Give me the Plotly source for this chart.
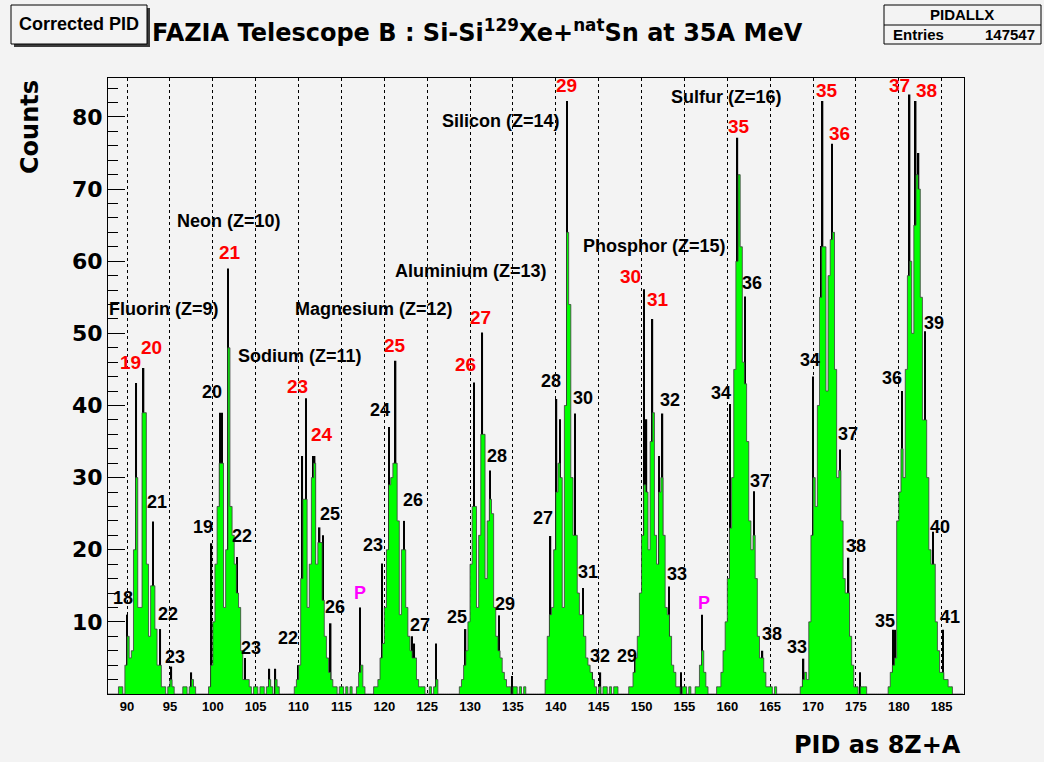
import numpy as np
import plotly.graph_objects as go

# ---------------------------------------------------------------------------
# PID spectrum (8Z+A), counts per 0.25-wide PID bin, one block per element
# ---------------------------------------------------------------------------
BIN_WIDTH = 0.25
PID_MIN, PID_MAX = 87.75, 187.5

fluorine_start = 89.0
fluorine_counts = [1, 1, 0, 4, 8, 5, 6, 20, 30, 12, 12, 39, 39, 18, 8, 15, 15, 9,
                   4, 4, 1, 1, 0, 1, 2, 1, 0, 0, 0, 0, 1, 1, 0, 1, 2, 1]

neon_start = 99.5
neon_counts = [1, 4, 10, 18, 26, 32, 32, 12, 20, 48, 26, 22, 18, 14, 12, 6, 2, 2,
               2, 1, 0, 1, 1, 0, 1, 1, 0, 1, 2, 1, 0, 2, 1]

sodium_start = 109.5
sodium_counts = [1, 2, 4, 16, 27, 27, 12, 18, 30, 32, 18, 21, 21, 13, 8, 5, 3, 2,
                 1, 1, 0, 1, 1, 0, 1, 0, 1, 0, 0, 1, 3, 4, 1]

magnesium_start = 118.75
magnesium_counts = [1, 1, 2, 5, 7, 12, 20, 29, 30, 32, 32, 24, 11, 20, 20, 12, 8,
                    6, 5, 5, 2, 1, 1, 1, 0, 0, 1, 0, 1, 2]

aluminium_start = 128.75
aluminium_counts = [1, 2, 4, 6, 10, 18, 26, 26, 12, 22, 36, 36, 16, 24, 27, 25, 12,
                    8, 6, 5, 3, 2, 1, 1, 0, 1, 1, 0, 1, 0, 1]

silicon_start = 138.75
silicon_counts = [2, 8, 11, 12, 20, 28, 32, 30, 12, 40, 64, 54, 30, 22, 22, 14, 11,
                  11, 8, 5, 4, 3, 2, 1, 0, 1, 0, 1, 1, 0, 1, 0, 1, 1]

phosphorus_start = 148.5
phosphorus_counts = [1, 1, 3, 5, 8, 14, 22, 29, 28, 20, 35, 39, 22, 18, 28, 30, 22,
                     12, 11, 8, 4, 3, 1, 1, 0, 1, 1, 0, 1, 0, 0, 1, 1, 4, 6, 3, 1]

sulfur_start = 158.75
sulfur_counts = [1, 1, 3, 6, 10, 16, 23, 30, 45, 60, 72, 62, 46, 43, 35, 24, 20, 22,
                 16, 8, 5, 5, 3, 1, 1, 1, 0, 1]

chlorine_start = 168.5
chlorine_counts = [1, 2, 3, 2, 10, 22, 30, 26, 40, 55, 62, 62, 42, 58, 63, 64, 45,
                   30, 31, 24, 16, 14, 14, 8, 4, 1, 1, 0, 1, 1, 1]

argon_start = 178.75
argon_counts = [1, 3, 4, 5, 24, 28, 34, 30, 45, 58, 60, 50, 65, 72, 70, 55, 38, 38,
                30, 20, 18, 18, 10, 6, 3, 3, 2, 2, 1, 1]

# Single-bin maxima that stand out of the smoothed distribution
spike_pid = [90.03, 91.08, 91.93, 93.02, 93.88, 95.17, 97.5,
             99.84, 100.85, 101.1, 101.78, 102.84, 103.73, 106.6, 107.3,
             110.02, 110.44, 110.87, 111.7, 111.88, 112.46, 112.85, 113.75, 117.2,
             119.73, 120.54, 121.32, 122.33, 123.26, 123.5, 126.0,
             129.48, 130.45, 131.43, 132.32, 133.41, 134.9,
             139.38, 140.08, 140.47, 141.32, 142.22, 143.19, 144.2, 145.2,
             149.21, 150.26, 150.57, 151.27, 152.05, 152.44, 153.18, 154.6, 157.02,
             160.29, 161.18, 161.38, 162.08, 163.13, 164.1,
             168.89, 170.02, 170.91, 171.11, 172.2, 173.17, 174.14, 175.5,
             179.3, 179.6, 180.35, 181.26, 181.97, 182.3, 183.03, 184.0, 185.12]
spike_counts = [11.0, 43.1, 45.2, 23.9, 9.0, 3.8, 3.0,
                20.9, 39.0, 39.0, 59.0, 19.0, 5.0, 3.5, 3.5,
                4.0, 33.0, 41.0, 33.0, 33.0, 23.1, 22.0, 9.8, 12.0,
                18.1, 37.0, 46.2, 24.0, 8.0, 7.0, 7.0,
                9.0, 43.2, 50.1, 31.0, 10.9, 2.5,
                21.9, 40.9, 38.1, 82.2, 38.9, 14.7, 3.0, 3.0,
                5.7, 56.1, 38.1, 52.0, 33.0, 38.9, 14.9, 3.0, 11.0,
                40.2, 77.1, 70.2, 55.1, 28.1, 6.0,
                4.9, 44.0, 62.1, 82.2, 76.3, 33.9, 18.9, 3.0,
                8.9, 8.9, 42.0, 83.1, 82.2, 75.0, 50.3, 22.5, 8.9]

x_ticks = list(range(90, 186, 5))
y_ticks = list(range(10, 81, 10))

# ---------------------------------------------------------------------------
# Assemble the full binned spectrum
# ---------------------------------------------------------------------------
n_bins = int(round((PID_MAX - PID_MIN) / BIN_WIDTH))
edges = PID_MIN + BIN_WIDTH * np.arange(n_bins + 1)
counts = np.zeros(n_bins)
for start, vals in [(fluorine_start, fluorine_counts), (neon_start, neon_counts),
                    (sodium_start, sodium_counts), (magnesium_start, magnesium_counts),
                    (aluminium_start, aluminium_counts), (silicon_start, silicon_counts),
                    (phosphorus_start, phosphorus_counts), (sulfur_start, sulfur_counts),
                    (chlorine_start, chlorine_counts), (argon_start, argon_counts)]:
    i0 = int(round((start - PID_MIN) / BIN_WIDTH))
    counts[i0:i0 + len(vals)] = vals
step_y = np.append(counts, counts[-1])

# ---------------------------------------------------------------------------
# Figure geometry (pixels)
# ---------------------------------------------------------------------------
W, H = 1044, 762
L, R, T, B = 108, 80, 78, 68
PW, PH = W - L - R, H - T - B
X_RANGE = [87.78, 187.6]
Y_RANGE = [0, 85.4]


def px(xp):
    return (xp - L) / PW


def py(yp):
    return (H - B - yp) / PH


BG = "#f3f3f3"
LIB = "Liberation Sans"
DJV = "DejaVu Sans"

fig = go.Figure()
fig.add_trace(go.Bar(x=spike_pid, y=spike_counts, width=0.17,
                     marker=dict(color="#000000", line=dict(width=0)),
                     hoverinfo="skip", showlegend=False))
fig.add_trace(go.Scatter(x=edges, y=step_y, mode="lines", line_shape="hv",
                         line=dict(color="#3c3c3c", width=0.8),
                         fill="tozeroy", fillcolor="#00ff00",
                         hoverinfo="skip", showlegend=False))

EL, RD, BK = 18, 19, 18   # label sizes: element names, red and black isotopes
labels = [
    ("Fluorin (Z=9)", 94.31, 53.35, "black", EL),
    ("Neon (Z=10)", 101.89, 65.55, "black", EL),
    ("Sodium (Z=11)", 110.17, 46.84, "black", EL),
    ("Magnesium (Z=12)", 118.80, 53.35, "black", EL),
    ("Aluminium (Z=13)", 130.11, 58.62, "black", EL),
    ("Silicon (Z=14)", 133.61, 79.41, "black", EL),
    ("Phosphor (Z=15)", 151.56, 62.08, "black", EL),
    ("Sulfur (Z=16)", 159.95, 82.73, "black", EL),
    ("Chlorin (Z=17)", 171.03, 88.0, "black", EL),
    ("Argon (Z=18)", 186.54, 88.0, "black", EL),
    ("19", 90.35, 46.0, "red", RD), ("20", 92.80, 48.09, "red", RD),
    ("21", 102.01, 61.25, "red", RD), ("23", 109.82, 42.68, "red", RD),
    ("24", 112.73, 36.03, "red", RD), ("25", 121.25, 48.36, "red", RD),
    ("26", 129.41, 45.73, "red", RD), ("27", 131.16, 52.25, "red", RD),
    ("29", 141.30, 84.40, "red", RD), ("30", 148.76, 57.93, "red", RD),
    ("31", 151.91, 54.74, "red", RD), ("35", 161.32, 78.71, "red", RD),
    ("35", 171.58, 83.70, "red", RD), ("36", 173.13, 77.74, "red", RD),
    ("37", 180.12, 84.40, "red", RD), ("38", 183.27, 83.70, "red", RD),
    ("18", 89.53, 13.30, "black", BK), ("21", 93.50, 26.61, "black", BK),
    ("22", 94.78, 11.09, "black", BK), ("23", 95.60, 5.13, "black", BK),
    ("20", 99.91, 41.85, "black", BK), ("19", 98.86, 23.14, "black", BK),
    ("22", 103.41, 21.90, "black", BK), ("23", 104.46, 6.37, "black", BK),
    ("22", 108.77, 7.76, "black", BK), ("25", 113.67, 24.94, "black", BK),
    ("26", 114.25, 12.06, "black", BK), ("23", 118.68, 20.65, "black", BK),
    ("24", 119.50, 39.36, "black", BK), ("26", 123.34, 26.88, "black", BK),
    ("27", 124.16, 9.56, "black", BK), ("25", 128.48, 10.67, "black", BK),
    ("28", 133.14, 32.98, "black", BK), ("29", 134.07, 12.47, "black", BK),
    ("27", 138.50, 24.39, "black", BK), ("28", 139.43, 43.38, "black", BK),
    ("30", 143.17, 41.02, "black", BK), ("31", 143.75, 16.91, "black", BK),
    ("32", 145.15, 5.27, "black", BK), ("29", 148.30, 5.27, "black", BK),
    ("32", 153.31, 40.74, "black", BK), ("33", 154.13, 16.63, "black", BK),
    ("34", 159.25, 41.71, "black", BK), ("36", 162.87, 56.96, "black", BK),
    ("37", 163.80, 29.52, "black", BK), ("38", 165.20, 8.31, "black", BK),
    ("33", 168.11, 6.51, "black", BK), ("34", 169.63, 46.29, "black", BK),
    ("37", 174.06, 36.03, "black", BK), ("38", 174.99, 20.51, "black", BK),
    ("35", 178.38, 10.12, "black", BK), ("36", 179.19, 43.79, "black", BK),
    ("39", 184.09, 51.41, "black", BK), ("40", 184.79, 23.14, "black", BK),
    ("41", 185.95, 10.67, "black", BK),
    ("P", 117.17, 14.0, "#ff00ff", 18), ("P", 157.27, 12.61, "#ff00ff", 18),
]

annotations = []
for text, xv, yv, col, size in labels:
    annotations.append(dict(text=text, x=xv, y=yv, xref="x", yref="y",
                            showarrow=False, xanchor="center", yanchor="middle",
                            font=dict(family=LIB, size=size, color=col, weight="bold")))

# Title, axis titles, pave texts
annotations += [
    dict(text="FAZIA Telescope B : Si-Si<sup>129</sup>Xe+<sup>nat</sup>Sn at 35A MeV",
         x=px(150), y=py(31), xref="paper", yref="paper", showarrow=False,
         xanchor="left", yanchor="middle",
         font=dict(family=DJV, size=24, color="black", weight="bold")),
    dict(text="Counts", x=px(30), y=py(127), xref="paper", yref="paper",
         showarrow=False, textangle=-90, xanchor="center", yanchor="middle",
         font=dict(family=DJV, size=24, color="black", weight="bold")),
    dict(text="PID as 8Z+A", x=px(963), y=py(745), xref="paper", yref="paper",
         showarrow=False, xanchor="right", yanchor="middle",
         font=dict(family=DJV, size=24, color="black", weight="bold")),
    dict(text="Corrected PID", x=px(79), y=py(24), xref="paper", yref="paper",
         showarrow=False, xanchor="center", yanchor="middle",
         font=dict(family=LIB, size=18, color="black", weight="bold")),
    dict(text="PIDALLX", x=px(962), y=py(15), xref="paper", yref="paper",
         showarrow=False, xanchor="center", yanchor="middle",
         font=dict(family=LIB, size=15, color="black", weight="bold")),
    dict(text="Entries", x=px(891), y=py(34), xref="paper", yref="paper",
         showarrow=False, xanchor="left", yanchor="middle",
         font=dict(family=LIB, size=15, color="black", weight="bold")),
    dict(text="147547", x=px(1037), y=py(34), xref="paper", yref="paper",
         showarrow=False, xanchor="right", yanchor="middle",
         font=dict(family=LIB, size=15, color="black", weight="bold")),
]

shapes = [
    # "Corrected PID" pave with drop shadow
    dict(type="rect", xref="paper", yref="paper", x0=px(14), x1=px(150), y0=py(8), y1=py(47),
         fillcolor="#3a3a3a", line=dict(width=0), layer="above"),
    dict(type="rect", xref="paper", yref="paper", x0=px(11), x1=px(147), y0=py(5), y1=py(44),
         fillcolor=BG, line=dict(color="black", width=1), layer="above"),
    # statistics box
    dict(type="rect", xref="paper", yref="paper", x0=px(884), x1=px(1041), y0=py(5), y1=py(44),
         fillcolor=BG, line=dict(color="black", width=1), layer="below"),
    dict(type="line", xref="paper", yref="paper", x0=px(884), x1=px(1041), y0=py(25), y1=py(25),
         line=dict(color="black", width=1)),
]

fig.update_layout(
    width=W, height=H,
    margin=dict(l=L, r=R, t=T, b=B, pad=0),
    paper_bgcolor=BG, plot_bgcolor=BG,
    showlegend=False, barmode="overlay",
    annotations=annotations, shapes=shapes,
    xaxis=dict(range=X_RANGE, tickmode="array", tickvals=x_ticks,
               ticktext=[str(v) for v in x_ticks], ticks="", showgrid=True,
               gridcolor="#000000", griddash="dot", gridwidth=1, zeroline=False,
               showline=True, linecolor="#000000", linewidth=1, mirror=True,
               tickfont=dict(family=LIB, size=13, color="black", weight="bold")),
    yaxis=dict(range=Y_RANGE, tickmode="array", tickvals=y_ticks,
               ticktext=[str(v) for v in y_ticks], ticks="inside", ticklen=17,
               tickcolor="#000000", showgrid=False, zeroline=False,
               showline=True, linecolor="#000000", linewidth=1, mirror=True,
               minor=dict(ticks="inside", ticklen=10, dtick=2, tick0=0,
                          tickcolor="#000000", showgrid=False),
               tickfont=dict(family=DJV, size=22, color="black", weight="bold")),
)

fig.write_html("out.html")
